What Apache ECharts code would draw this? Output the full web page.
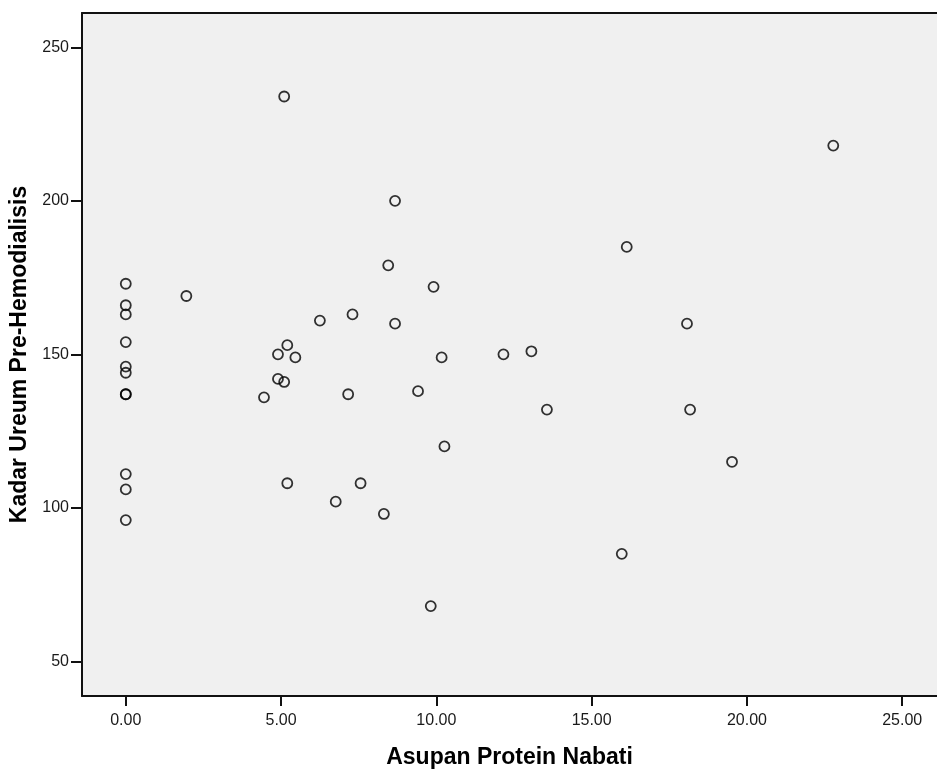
<!DOCTYPE html>
<html>
<head>
<meta charset="utf-8">
<script src="https://cdn.jsdelivr.net/npm/echarts@6/dist/echarts.min.js"></script>
<style>html,body{margin:0;padding:0;background:#fff}#c{width:937px;height:772px}</style>
</head>
<body>
<div id="c"></div>
<script>
// Asupan Protein Nabati (x) vs Kadar Ureum Pre-Hemodialisis (y)
const proteinNabati = [
  0, 0, 0, 0, 0, 0, 0, 0, 0, 0, 0,
  1.95, 4.45, 4.90, 4.90, 5.10, 5.10, 5.20, 5.20, 5.46, 6.25, 6.76,
  7.16, 7.30, 7.56, 8.31, 8.45, 8.67, 8.67, 9.41, 9.82, 9.91, 10.17, 10.26,
  12.16, 13.06, 13.56, 15.97, 16.13, 18.07, 18.17, 19.52, 22.78
];
const ureumPre = [
  173, 166, 163, 154, 146, 144, 137, 137, 111, 106, 96,
  169, 136, 150, 142, 141, 234, 153, 108, 149, 161, 102,
  137, 163, 108, 98, 179, 200, 160, 138, 68, 172, 149, 120,
  150, 151, 132, 85, 185, 160, 132, 115, 218
];
const xTicks = [0, 5, 10, 15, 20, 25];
const yTicks = [50, 100, 150, 200, 250];
const xTitle = 'Asupan Protein Nabati';
const yTitle = 'Kadar Ureum Pre-Hemodialisis';

const points = proteinNabati.map((x, i) => [x, ureumPre[i]]);
const chart = echarts.init(document.getElementById('c'), null, {renderer: 'canvas'});
const font = 'Liberation Sans, Arial, sans-serif';
const xMin = -1.41, xMax = 26.12;
chart.setOption({
  animation: false,
  backgroundColor: '#ffffff',
  grid: {
    left: 82, top: 13, right: 0, bottom: 76,
    outerBoundsMode: 'none', containLabel: false,
    show: true, backgroundColor: '#f0f0f0', borderWidth: 0
  },
  xAxis: [{
    type: 'value', min: xMin, max: xMax, position: 'bottom',
    name: xTitle, nameLocation: 'middle', nameGap: 50,
    nameTextStyle: {fontFamily: font, fontSize: 23, fontWeight: 'bold', color: '#000'},
    axisLine: {show: true, onZero: false, lineStyle: {color: '#111', width: 2}},
    axisTick: {show: true, length: 10, customValues: xTicks, lineStyle: {color: '#111', width: 2}},
    axisLabel: {customValues: xTicks, margin: 17, fontFamily: font, fontSize: 16, color: '#1a1a1a',
      formatter: v => v.toFixed(2)},
    splitLine: {show: false}
  }, {
    type: 'value', min: xMin, max: xMax, position: 'top',
    axisLine: {show: true, onZero: false, lineStyle: {color: '#111', width: 2}},
    axisTick: {show: false}, axisLabel: {show: false}, splitLine: {show: false}
  }],
  yAxis: {
    type: 'value', min: 38.7, max: 261.2,
    name: yTitle, nameLocation: 'middle', nameGap: 41,
    nameTextStyle: {fontFamily: font, fontSize: 23, fontWeight: 'bold', color: '#000'},
    axisLine: {show: true, onZero: false, lineStyle: {color: '#111', width: 2}},
    axisTick: {show: true, length: 11, customValues: yTicks, lineStyle: {color: '#111', width: 2}},
    axisLabel: {customValues: yTicks, margin: 13, fontFamily: font, fontSize: 16, color: '#1a1a1a'},
    splitLine: {show: false}
  },
  series: [{
    type: 'scatter',
    xAxisIndex: 0,
    data: points,
    symbol: 'circle',
    symbolSize: 10,
    itemStyle: {color: 'rgba(0,0,0,0)', borderColor: '#000', borderWidth: 1.8}
  }]
});
</script>
</body>
</html>
